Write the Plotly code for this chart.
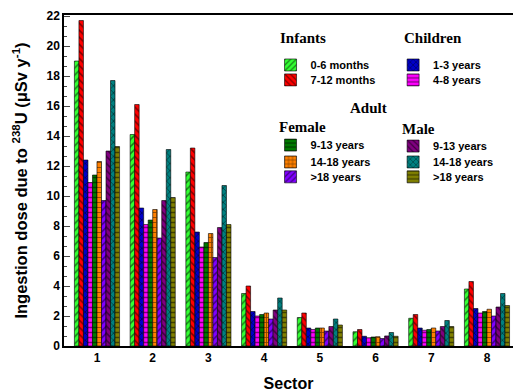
import plotly.graph_objects as go

sectors = [1, 2, 3, 4, 5, 6, 7, 8]
names = ["0-6 months", "7-12 months", "1-3 years", "4-8 years",
         "9-13 years", "14-18 years", ">18 years",
         "9-13 years", "14-18 years", ">18 years"]
inf_0_6 = [19.0, 14.1, 11.6, 3.5, 1.9, 0.95, 1.85, 3.8]
inf_7_12 = [21.7, 16.1, 13.2, 4.0, 2.2, 1.1, 2.1, 4.3]
ch_1_3 = [12.4, 9.2, 7.6, 2.3, 1.2, 0.65, 1.2, 2.5]
ch_4_8 = [10.9, 8.1, 6.6, 2.0, 1.1, 0.55, 1.05, 2.2]
f_9_13 = [11.4, 8.4, 6.9, 2.1, 1.2, 0.6, 1.1, 2.3]
f_14_18 = [12.3, 9.1, 7.5, 2.2, 1.2, 0.62, 1.2, 2.45]
f_18 = [9.7, 7.2, 5.9, 1.8, 1.0, 0.5, 1.0, 2.0]
m_9_13 = [13.0, 9.7, 7.9, 2.4, 1.3, 0.67, 1.3, 2.6]
m_14_18 = [17.7, 13.1, 10.7, 3.2, 1.8, 0.9, 1.7, 3.5]
m_18 = [13.3, 9.9, 8.1, 2.4, 1.4, 0.65, 1.3, 2.7]
series = [inf_0_6, inf_7_12, ch_1_3, ch_4_8, f_9_13, f_14_18, f_18, m_9_13, m_14_18, m_18]
colors = ["#33FF33", "#FF0000", "#0000C8", "#FF00FF", "#007A00",
          "#FF8000", "#8000FF", "#800080", "#008080", "#808000"]
shapes = ["/", "\\", "x", "-", "-", "+", "/", "\\", "x", "-"]
group_titles = ["Infants", "Children", "Adult", "Female", "Male"]

# legend placement (paper coords): left edge x, item centre y
leg_x = [0.46, 0.46, 0.733, 0.733, 0.46, 0.46, 0.46, 0.733, 0.733, 0.733]
leg_y = [0.849, 0.804, 0.849, 0.804, 0.607, 0.556, 0.511, 0.604, 0.556, 0.511]
title_pos = [(0.477, 0.930), (0.753, 0.930), (0.633, 0.719), (0.475, 0.662), (0.748, 0.656)]

fig = go.Figure()
itm = dict(family="Liberation Sans", size=11, color="black", weight="bold")
ttl = dict(family="Liberation Serif", size=15, color="black", weight="bold")
layout_legends = {}
for i, (nm, vals, c, sh) in enumerate(zip(names, series, colors, shapes)):
    key = "legend" if i == 0 else f"legend{i + 1}"
    fig.add_trace(go.Bar(
        x=sectors, y=vals, name=nm, legend=key, showlegend=True,
        marker=dict(color=c, line=dict(color="black", width=0.6),
                    pattern=dict(shape=sh, fgcolor="black", bgcolor=c,
                                 size=5, solidity=0.3, fillmode="overlay")),
    ))
    layout_legends[key] = dict(bgcolor="rgba(0,0,0,0)", xanchor="left", yanchor="middle",
                               x=leg_x[i], y=leg_y[i], font=itm, itemclick=False,
                               borderwidth=0)

annotations = [dict(text=t, x=px, y=py, xref="paper", yref="paper", xanchor="left",
                    yanchor="middle", showarrow=False, font=ttl)
               for t, (px, py) in zip(group_titles, title_pos)]

fig.update_layout(
    width=513, height=392,
    margin=dict(l=64, r=0, t=15, b=46),
    plot_bgcolor="white", paper_bgcolor="white",
    showlegend=True,
    barmode="group", bargap=0.19, bargroupgap=0,
    font=dict(family="Liberation Sans", color="black"),
    annotations=annotations,
    **layout_legends,
)
fig.update_xaxes(
    range=[0.408, 8.467], tickvals=sectors, ticks="", automargin=False,
    showline=True, linecolor="black", linewidth=1.5, mirror=True,
    tickfont=dict(family="Liberation Sans", size=12, weight="bold"),
    title=dict(text="Sector", font=dict(family="Liberation Sans", size=16, weight="bold")),
    showgrid=False, zeroline=False,
)
fig.update_yaxes(
    range=[0, 22.07], dtick=2, tick0=0, ticks="inside", ticklen=6, tickwidth=1.2,
    minor=dict(dtick=2/3, tick0=0, ticks="inside", ticklen=3, tickwidth=1),
    showline=True, linecolor="black", linewidth=1.5, mirror=False, automargin=False,
    tickfont=dict(family="Liberation Sans", size=12, weight="bold"),
    title=dict(text="Ingestion dose due to <sup>238</sup>U (μSv y<sup>-1</sup>)",
               font=dict(family="Liberation Sans", size=16.5, weight="bold")),
    showgrid=False, zeroline=False,
)
fig.write_html("out.html", config={"displayModeBar": False},
               post_script="document.body.style.margin='0';document.body.style.overflow='hidden';")
